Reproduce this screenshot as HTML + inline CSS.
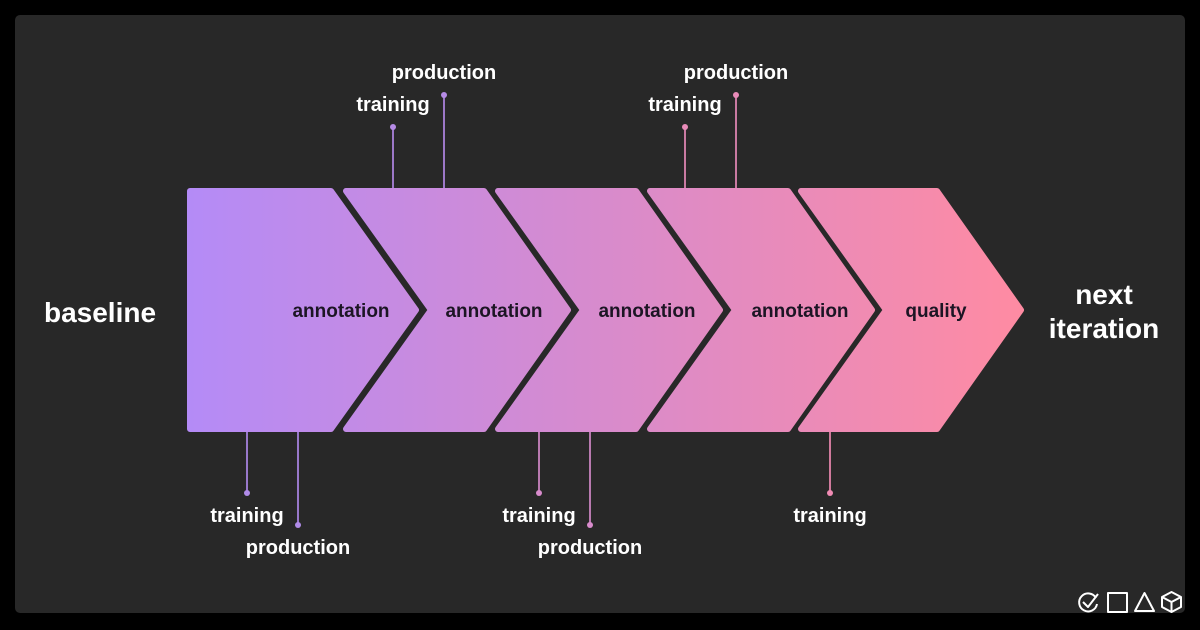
<!DOCTYPE html>
<html><head><meta charset="utf-8"><style>
html,body{margin:0;padding:0;background:#000;}
svg{display:block;}
text{font-family:"Liberation Sans",sans-serif;}
</style></head><body>
<svg width="1200" height="630" viewBox="0 0 1200 630" xmlns="http://www.w3.org/2000/svg">
<defs>
<linearGradient id="g" gradientUnits="userSpaceOnUse" x1="187" y1="0" x2="1026" y2="0">
<stop offset="0" stop-color="#b48bf7"/>
<stop offset="0.5" stop-color="#d88bcc"/>
<stop offset="1" stop-color="#ff8ba2"/>
</linearGradient>
</defs>
<rect x="15" y="15" width="1170" height="598" rx="5" fill="#282828"/>
<g fill="url(#g)" stroke="url(#g)" stroke-width="6" stroke-linejoin="round">
<polygon points="190,191 331,191 416,310 331,429 190,429"/>
<polygon points="346,191 484,191 568,310 484,429 346,429 431,310"/>
<polygon points="498,191 636,191 720,310 636,429 498,429 583,310"/>
<polygon points="650,191 788,191 872,310 788,429 650,429 735,310"/>
<polygon points="801,191 937,191 1021,310 937,429 801,429 886,310"/>
</g>
<g stroke-width="2" fill="none">
<line x1="393" y1="127" x2="393" y2="188" stroke="#9c78c8"/>
<line x1="444" y1="95" x2="444" y2="188" stroke="#9c78c8"/>
<line x1="685" y1="127" x2="685" y2="188" stroke="#c97aa2"/>
<line x1="736" y1="95" x2="736" y2="188" stroke="#c97aa2"/>
<line x1="247" y1="432" x2="247" y2="493" stroke="#9878ca"/>
<line x1="298" y1="432" x2="298" y2="525" stroke="#9878ca"/>
<line x1="539" y1="432" x2="539" y2="493" stroke="#b97ab0"/>
<line x1="590" y1="432" x2="590" y2="525" stroke="#b97ab0"/>
<line x1="830" y1="432" x2="830" y2="493" stroke="#d07a9c"/>
</g>
<g>
<circle cx="393" cy="127" r="3" fill="#b68be6"/>
<circle cx="444" cy="95" r="3" fill="#b68be6"/>
<circle cx="685" cy="127" r="3" fill="#e98bb9"/>
<circle cx="736" cy="95" r="3" fill="#e98bb9"/>
<circle cx="247" cy="493" r="3" fill="#b08be8"/>
<circle cx="298" cy="525" r="3" fill="#b08be8"/>
<circle cx="539" cy="493" r="3" fill="#d88bcc"/>
<circle cx="590" cy="525" r="3" fill="#d88bcc"/>
<circle cx="830" cy="493" r="3" fill="#f08bb4"/>
</g>
<g fill="#ffffff" font-size="20" font-weight="bold" text-anchor="middle">
<text x="393" y="111">training</text>
<text x="444" y="79">production</text>
<text x="685" y="111">training</text>
<text x="736" y="79">production</text>
<text x="247" y="522">training</text>
<text x="298" y="554">production</text>
<text x="539" y="522">training</text>
<text x="590" y="554">production</text>
<text x="830" y="522">training</text>
</g>
<g fill="#1c1524" font-size="19" font-weight="bold" text-anchor="middle">
<text x="341" y="317">annotation</text>
<text x="494" y="317">annotation</text>
<text x="647" y="317">annotation</text>
<text x="800" y="317">annotation</text>
<text x="936" y="317">quality</text>
</g>
<g fill="#ffffff" font-size="28" font-weight="bold" text-anchor="middle">
<text x="100" y="322">baseline</text>
<text x="1104" y="304">next</text>
<text x="1104" y="338">iteration</text>
</g>
<g fill="none" stroke="#ffffff" stroke-width="2" stroke-linejoin="round">
<path d="M1096,598 A9,9 0 1 0 1097,604"/>
<path d="M1083,602 L1088,607 L1098,594"/>
<rect x="1108" y="593" width="19" height="19"/>
<polygon points="1144.5,593 1154,611 1135,611"/>
<polygon points="1171.5,592 1181,597 1181,607 1171.5,612 1162,607 1162,597"/>
<path d="M1162,597 L1171.5,602 L1181,597 M1171.5,602 L1171.5,612"/>
</g>
</svg>
</body></html>
